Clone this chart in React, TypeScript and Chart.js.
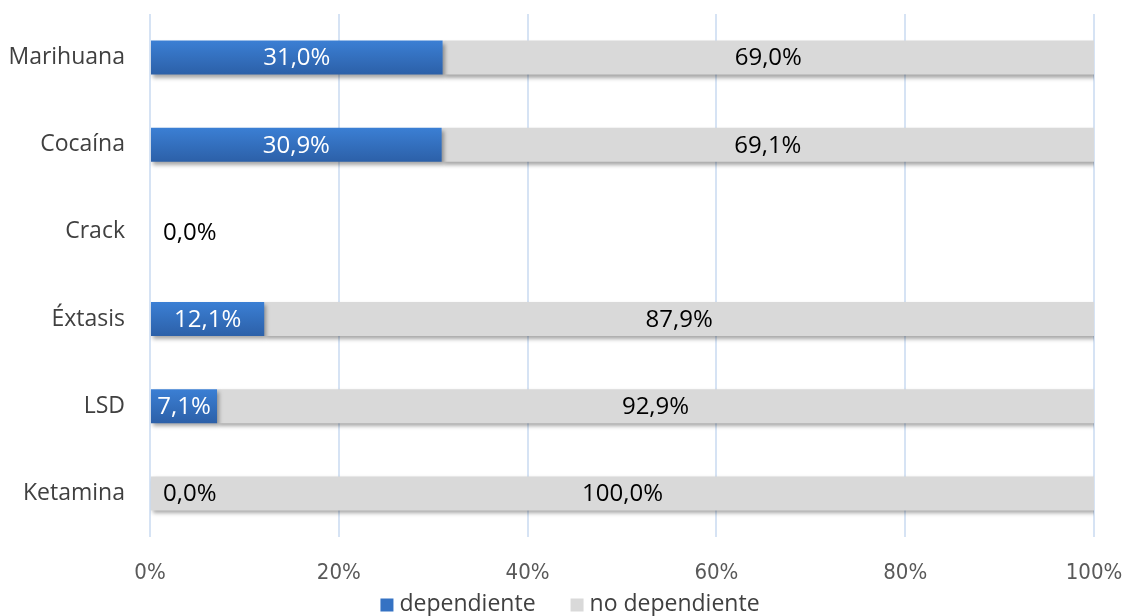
import React, { useEffect, useRef } from "react";
import { Chart, registerables } from "chart.js";

Chart.register(...registerables);

const categories = ["Marihuana", "Cocaína", "Crack", "Éxtasis", "LSD", "Ketamina"];
const dependiente = [31.0, 30.9, 0.0, 12.1, 7.1, 0.0];
const noDependiente = [69.0, 69.1, 0.0, 87.9, 92.9, 100.0];
const xTicks = [0, 20, 40, 60, 80, 100];
const seriesNames = ["dependiente", "no dependiente"];
const seriesColors = ["#3572c3", "#d9d9d9"];

const fmt = (v: number) => v.toFixed(1).replace(".", ",") + "%";
const LABEL_FONT = "24px 'Open Sans'";
const BAR_PCT = 0.39;

const zeroPad = (s: any) => {
  s.paddingLeft = 0;
  s.paddingRight = 0;
  s.paddingTop = 0;
  s.paddingBottom = 0;
};

const blueFill = (c: any) => {
  const chart = c.chart;
  const ys = chart.scales && chart.scales.y;
  if (!ys || !chart.chartArea || c.dataIndex === undefined) return seriesColors[0];
  const center = ys.getPixelForValue(c.dataIndex);
  const half = (ys.height / categories.length) * BAR_PCT / 2;
  const g = chart.ctx.createLinearGradient(0, center - half, 0, center + half);
  g.addColorStop(0, "#3b7fd4");
  g.addColorStop(1, "#2c60a8");
  return g;
};

const shadowPlugin = {
  id: "barShadow",
  beforeDatasetsDraw(chart: any) {
    const ctx = chart.ctx;
    ctx.save();
    ctx.shadowColor = "rgba(0,0,0,0.35)";
    ctx.shadowBlur = 4;
    ctx.shadowOffsetX = 2;
    ctx.shadowOffsetY = 3;
  },
  afterDatasetsDraw(chart: any) {
    chart.ctx.restore();
  },
};

const labelPlugin = {
  id: "segLabels",
  afterDraw(chart: any) {
    const ctx = chart.ctx;
    const xs = chart.scales.x;
    ctx.save();
    ctx.font = LABEL_FONT;
    ctx.textBaseline = "middle";
    chart.data.datasets.forEach((ds: any, di: number) => {
      const meta = chart.getDatasetMeta(di);
      meta.data.forEach((bar: any, i: number) => {
        const v = ds.data[i];
        if (di === 1 && v === 0) return;
        const left = Math.min(bar.base, bar.x);
        const right = Math.max(bar.base, bar.x);
        if (v === 0) {
          ctx.fillStyle = "#000000";
          ctx.textAlign = "left";
          ctx.fillText(fmt(v), xs.getPixelForValue(0) + 13, bar.y + 1);
        } else {
          ctx.fillStyle = di === 0 ? "#ffffff" : "#000000";
          ctx.textAlign = "center";
          ctx.fillText(fmt(v), (left + right) / 2, bar.y + 1);
        }
      });
    });
    ctx.restore();
  },
};

const legendPlugin = {
  id: "customLegend",
  afterDraw(chart: any) {
    const ctx = chart.ctx;
    ctx.save();
    ctx.font = "23px 'Open Sans'";
    ctx.textBaseline = "middle";
    ctx.textAlign = "left";
    const y = 604;
    const box = 13;
    const gap = 6;
    const spacing = 35;
    const widths = seriesNames.map((n) => box + gap + ctx.measureText(n).width);
    const total = widths.reduce((a, b) => a + b, 0) + spacing * (widths.length - 1);
    let x = 570 - total / 2;
    seriesNames.forEach((n, i) => {
      ctx.fillStyle = seriesColors[i];
      ctx.fillRect(x, y - box / 2 + 1, box, box);
      ctx.fillStyle = "#404040";
      ctx.fillText(n, x + box + gap, y);
      x += widths[i] + spacing;
    });
    ctx.restore();
  },
};

export default function App() {
  const ref = useRef<HTMLCanvasElement | null>(null);
  useEffect(() => {
    if (!ref.current) return;
    const chart = new Chart(ref.current, {
      type: "bar",
      data: {
        labels: categories,
        datasets: [
          {
            label: seriesNames[0],
            data: dependiente,
            backgroundColor: blueFill,
            barPercentage: BAR_PCT,
            categoryPercentage: 1,
          },
          {
            label: seriesNames[1],
            data: noDependiente,
            backgroundColor: seriesColors[1],
            barPercentage: BAR_PCT,
            categoryPercentage: 1,
          },
        ],
      },
      options: {
        indexAxis: "y",
        animation: false,
        responsive: true,
        maintainAspectRatio: false,
        layout: { padding: { top: 14, right: 32, bottom: 0, left: 0 } },
        plugins: { legend: { display: false }, tooltip: { enabled: false } },
        scales: {
          x: {
            stacked: true,
            min: 0,
            max: 100,
            afterFit: (s: any) => {
              s.height = 79;
              zeroPad(s);
            },
            afterBuildTicks: (s: any) => {
              s.ticks = xTicks.map((v) => ({ value: v }));
            },
            grid: { color: "#d6e3f4", lineWidth: 2, drawTicks: false },
            border: { display: false },
            ticks: {
              padding: 23,
              color: "#595959",
              font: { family: "'DejaVu Sans Condensed'", size: 22 },
              callback: (v: any) => v + "%",
            },
          },
          y: {
            stacked: true,
            afterFit: (s: any) => {
              s.width = 150;
              zeroPad(s);
            },
            grid: { display: false, drawTicks: false },
            border: { display: false },
            ticks: {
              padding: 25,
              color: "#404040",
              font: { family: "'Open Sans'", size: 23 },
            },
          },
        },
      },
      plugins: [shadowPlugin, labelPlugin, legendPlugin],
    });
    return () => chart.destroy();
  }, []);
  return (
    <div style={{ position: "fixed", left: 0, top: 0, width: 1126, height: 616, background: "#fff" }}>
      <canvas ref={ref} />
    </div>
  );
}
